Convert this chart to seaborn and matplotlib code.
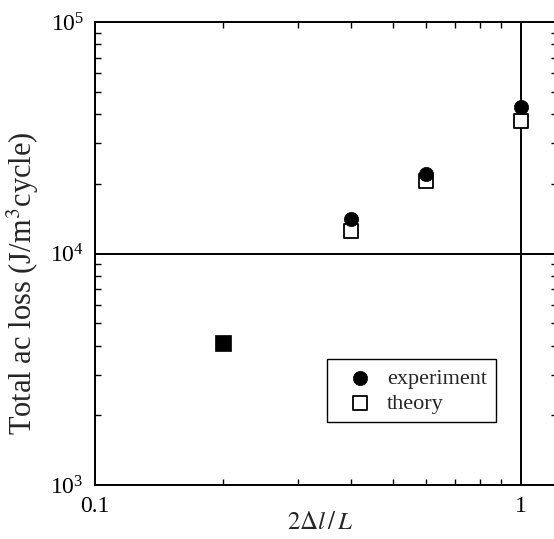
import matplotlib
matplotlib.use("Agg")
import matplotlib.pyplot as plt
import matplotlib.ticker as mticker
import seaborn as sns
import pandas as pd

# ---- data ----
exp_x = [0.4, 0.6, 1.0]
exp_y = [14100, 22000, 43000]
theo_x = [0.4, 0.6, 1.0]
theo_y = [12500, 20600, 37300]
overlap_x = [0.2]          # both series coincide (drawn as filled square)
overlap_y = [4100]
x_ticks = [0.1, 1]
x_tick_labels = ["0.1", "1"]
y_ticks = [1e3, 1e4, 1e5]

sns.set_style("ticks")
plt.rcParams["font.family"] = ["Liberation Serif", "DejaVu Serif"]
plt.rcParams["mathtext.fontset"] = "stix"

fig = plt.figure(figsize=(5.54, 5.39), dpi=100)
ax = fig.add_axes([95 / 554, 54 / 539, 462 / 554, 463 / 539])

df_exp = pd.DataFrame({"x": exp_x, "y": exp_y})
df_theo = pd.DataFrame({"x": theo_x, "y": theo_y})
df_ov = pd.DataFrame({"x": overlap_x, "y": overlap_y})

sns.scatterplot(data=df_theo, x="x", y="y", marker="s", s=90, facecolor="white",
                edgecolor="black", linewidth=1.3, ax=ax, zorder=3, label="theory")
sns.scatterplot(data=df_exp, x="x", y="y", marker="o", s=105, color="black",
                edgecolor="black", linewidth=0.5, ax=ax, zorder=4, label="experiment")
sns.scatterplot(data=df_ov, x="x", y="y", marker="s", s=120, color="black",
                edgecolor="black", linewidth=0.5, ax=ax, zorder=4, legend=False)

ax.set_xscale("log")
ax.set_yscale("log")
ax.set_xlim(0.1, 1.215)
ax.set_ylim(1e3, 1e5)

ax.set_xticks(x_ticks)
ax.set_xticklabels(x_tick_labels)
ax.set_yticks(y_ticks)
ax.yaxis.set_major_formatter(mticker.LogFormatterSciNotation())
ax.xaxis.set_minor_locator(mticker.LogLocator(base=10, subs=range(2, 10)))
ax.yaxis.set_minor_locator(mticker.LogLocator(base=10, subs=range(2, 10)))
ax.xaxis.set_minor_formatter(mticker.NullFormatter())
ax.yaxis.set_minor_formatter(mticker.NullFormatter())

ax.tick_params(which="both", direction="in", top=True, right=True, colors="black")
ax.tick_params(which="major", length=0, labelsize=17, pad=8)
ax.tick_params(which="minor", length=4, width=1.0)

ax.grid(which="major", color="black", linewidth=1.4)
ax.grid(which="minor", visible=False)
for sp in ax.spines.values():
    sp.set_color("black")
    sp.set_linewidth(1.4)

ax.set_xlabel(r"$2\Delta l\,/\,L$", fontsize=18)
ax.xaxis.set_label_coords(0.487, -0.058)
ax.set_ylabel(r"Total ac loss (J/m$^3$cycle)", fontsize=22)
ax.yaxis.set_label_coords(-0.116, 0.436)

handles, labels = ax.get_legend_handles_labels()
order = [labels.index("experiment"), labels.index("theory")]
leg = ax.legend([handles[i] for i in order], [labels[i] for i in order],
                loc="upper left", bbox_to_anchor=(0.502, 0.272), frameon=True,
                fancybox=False, edgecolor="black", framealpha=1, fontsize=16,
                handletextpad=0.1, borderpad=0.4, borderaxespad=0,
                labelspacing=0.2, handlelength=2.2)
leg.get_frame().set_linewidth(1.0)

fig.savefig("out.png", dpi=100)
